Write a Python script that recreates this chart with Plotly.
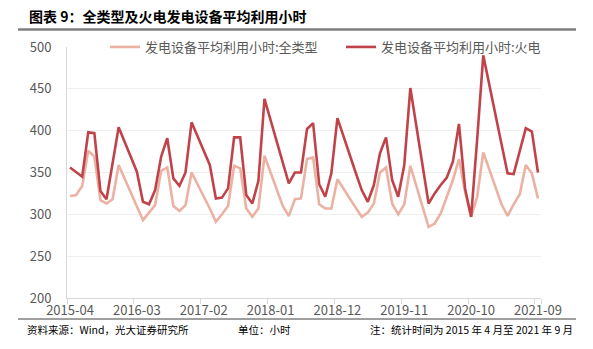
import pandas as pd
import plotly.graph_objects as go

# Monthly categories, 2015-04 .. 2021-09
months = [d.strftime("%Y-%m") for d in pd.date_range("2015-04-01", "2021-09-01", freq="MS")]

# Average utilisation hours of power generating equipment (January/February not published)
all_types = [
    322, 323, 334, 376, 369, 317, 313, 318, 359,                       # 2015 Apr-Dec
    None, None, 308, 293, 302, 311, 352, 356, 310, 304, 311, 350,      # 2016
    None, None, 307, 291, 300, 310, 358, 355, 307, 297, 307, 370,      # 2017
    None, None, 310, 298, 318, 319, 366, 368, 312, 307, 307, 342,      # 2018
    None, None, 308, 297, 302, 313, 350, 356, 313, 300, 312, 358,      # 2019
    None, None, 285, 289, 301, 321, 341, 366, 327, 297, 321, 374,      # 2020
    None, None, 312, 298, 312, 324, 359, 349, 319,                     # 2021 Jan-Sep
]
thermal = [
    356, 350, 345, 398, 397, 328, 318, 361, 404,
    None, None, 351, 315, 312, 329, 369, 391, 343, 334, 350, 410,
    None, None, 359, 319, 320, 331, 392, 392, 323, 313, 340, 438,
    None, None, 362, 337, 350, 350, 402, 409, 336, 321, 349, 415,
    None, None, 350, 329, 315, 335, 373, 392, 341, 321, 359, 451,
    None, None, 313, 325, 335, 344, 363, 408, 331, 297, 390, 490,
    None, None, 384, 349, 348, 375, 403, 399, 350,
]

series_names = ["发电设备平均利用小时:全类型", "发电设备平均利用小时:火电"]
series_colors = ["#EBB2A3", "#C0434A"]
x_ticks = months[::11]
y_ticks = [200, 250, 300, 350, 400, 450, 500]

title_text = "图表 9：全类型及火电发电设备平均利用小时"
source_text = "资料来源：Wind，光大证券研究所"
unit_text = "单位：小时"
note_text = "注：统计时间为 2015 年 4 月至 2021 年 9 月"

W, H = 593, 349
ML, MR, MT, MB = 67, 52, 47, 51
PW, PH = W - ML - MR, H - MT - MB
FONT = "Noto Sans CJK SC, Noto Sans, sans-serif"


def px_x(px):
    return (px - ML) / PW


def px_y(py):
    return (H - MB - py) / PH


fig = go.Figure()
for name, vals, col, leg in zip(series_names, [all_types, thermal], series_colors, ["legend", "legend2"]):
    fig.add_trace(go.Scatter(
        x=months, y=vals, name=name, mode="lines", connectgaps=True,
        line=dict(color=col, width=2.6), legend=leg,
    ))

legend_style = dict(
    orientation="h", y=px_y(47), xanchor="left", yanchor="middle",
    font=dict(size=13, color="#595959"), bgcolor="rgba(0,0,0,0)", itemwidth=30,
)

fig.update_layout(
    width=W, height=H,
    margin=dict(l=ML, r=MR, t=MT, b=MB),
    paper_bgcolor="white", plot_bgcolor="white",
    font=dict(family=FONT, size=13, color="#595959"),
    showlegend=True,
    legend=dict(x=px_x(105), **legend_style),
    legend2=dict(x=px_x(341), **legend_style),
    xaxis=dict(
        type="category", categoryorder="array", categoryarray=months,
        tickmode="array", tickvals=x_ticks, ticktext=x_ticks, tickangle=0,
        tickson="boundaries", ticks="outside", ticklen=5, tickcolor="#D9D9D9",
        showgrid=False, showline=True, linecolor="#D9D9D9", linewidth=1,
        tickfont=dict(size=13, color="#595959"),
        range=[-0.5, len(months) - 0.5],
    ),
    yaxis=dict(
        range=[200, 500], tickvals=y_ticks,
        showgrid=True, gridcolor="#EFEFEF", gridwidth=1,
        showline=True, linecolor="#D9D9D9", linewidth=1,
        zeroline=False, ticks="", ticklabelstandoff=12,
        tickfont=dict(size=13, color="#595959"),
    ),
)

# Heading and rule beneath it
fig.add_annotation(
    text=f"<b>{title_text}</b>", xref="paper", yref="paper",
    x=px_x(27), y=px_y(16), xanchor="left", yanchor="middle",
    showarrow=False, font=dict(size=14, color="#000000", family=FONT),
)
fig.add_shape(
    type="line", xref="paper", yref="paper",
    x0=px_x(18), x1=px_x(576), y0=px_y(29.5), y1=px_y(29.5),
    line=dict(color="#7F7F7F", width=2.5),
)

# Footer rule and notes
fig.add_shape(
    type="line", xref="paper", yref="paper",
    x0=px_x(18), x1=px_x(576), y0=px_y(319), y1=px_y(319),
    line=dict(color="#404040", width=1),
)
for txt, xp, anchor in [(source_text, 25, "left"), (unit_text, 236, "left"), (note_text, 575, "right")]:
    fig.add_annotation(
        text=txt, xref="paper", yref="paper", x=px_x(xp), y=px_y(329),
        xanchor=anchor, yanchor="middle", showarrow=False,
        font=dict(size=10.5, color="#000000", family=FONT),
    )

fig.write_html("out.html")
